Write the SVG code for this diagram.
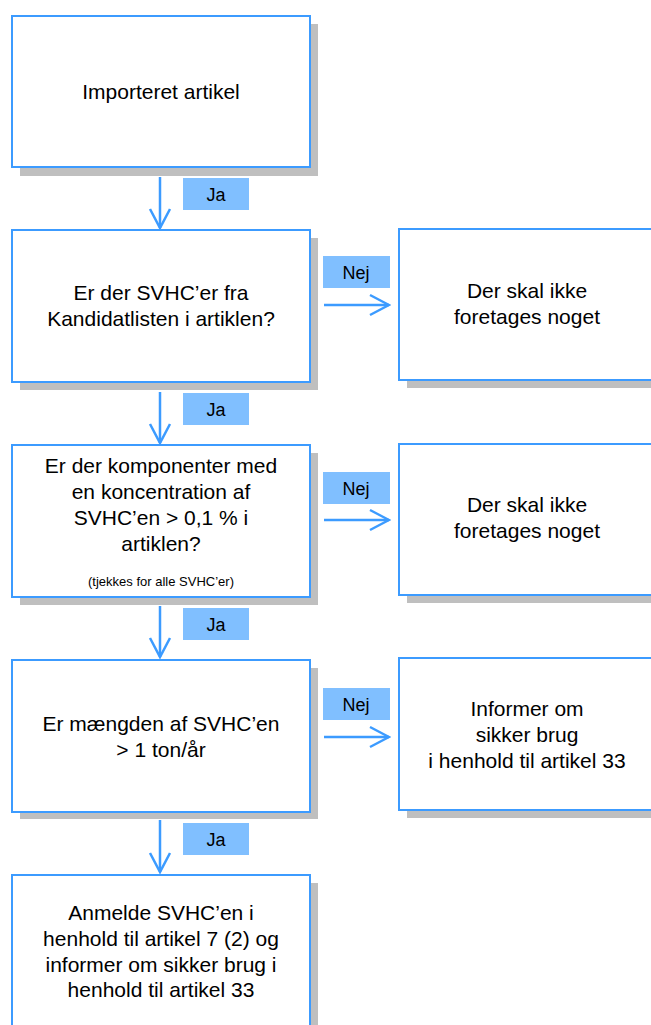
<svg xmlns="http://www.w3.org/2000/svg" width="651" height="1025" viewBox="0 0 651 1025">
<style>
.shadow{fill:#BFBFBF}
.box{fill:#FFFFFF;stroke:#3C9BFF;stroke-width:2}
.lbl{fill:#80BFFF}
.t{font-family:"Liberation Sans",Arial,sans-serif;font-size:21px;fill:#000;text-anchor:middle}
.s{font-family:"Liberation Sans",Arial,sans-serif;font-size:13px;fill:#000;text-anchor:middle}
.lt{font-family:"Liberation Sans",Arial,sans-serif;font-size:18px;fill:#000;text-anchor:middle}
.con{stroke:#3C9BFF;stroke-width:2.5;fill:none}
</style>
<defs>
<marker id="arr" markerUnits="userSpaceOnUse" markerWidth="24" markerHeight="24" viewBox="-22 -12 24 24" refX="0" refY="0" orient="auto">
<path d="M-19,-10 L0,0 L-19,10" fill="none" stroke="#3C9BFF" stroke-width="2.5"/>
</marker>
</defs>
<rect width="651" height="1025" fill="#FFFFFF"/>

<g id="n1">
<rect class="shadow" x="20" y="24" width="298" height="152"/>
<rect class="box" x="12" y="16" width="298" height="151"/>
<text class="t" x="161" y="99">Importeret artikel</text>
</g>

<g id="n2">
<rect class="shadow" x="20" y="238" width="298" height="152"/>
<rect class="box" x="12" y="230" width="298" height="152"/>
<text class="t" x="161" y="300">Er der SVHC’er fra</text>
<text class="t" x="161" y="326">Kandidatlisten i artiklen?</text>
</g>

<g id="n2r">
<rect class="shadow" x="407" y="237" width="260" height="151"/>
<rect class="box" x="399" y="229" width="258" height="151"/>
<text class="t" x="527" y="298">Der skal ikke</text>
<text class="t" x="527" y="324">foretages noget</text>
</g>

<g id="n3">
<rect class="shadow" x="20" y="453" width="298" height="152"/>
<rect class="box" x="12" y="445" width="298" height="152"/>
<text class="t" x="161" y="473">Er der komponenter med</text>
<text class="t" x="161" y="499">en koncentration af</text>
<text class="t" x="161" y="525">SVHC’en &gt; 0,1 % i</text>
<text class="t" x="161" y="551">artiklen?</text>
<text class="s" x="161" y="586">(tjekkes for alle SVHC’er)</text>
</g>

<g id="n3r">
<rect class="shadow" x="407" y="452" width="260" height="151"/>
<rect class="box" x="399" y="444" width="258" height="151"/>
<text class="t" x="527" y="512">Der skal ikke</text>
<text class="t" x="527" y="538">foretages noget</text>
</g>

<g id="n4">
<rect class="shadow" x="20" y="668" width="298" height="151"/>
<rect class="box" x="12" y="660" width="298" height="152"/>
<text class="t" x="161" y="731">Er mængden af SVHC’en</text>
<text class="t" x="161" y="757">&gt; 1 ton/år</text>
</g>

<g id="n4r">
<rect class="shadow" x="407" y="666" width="260" height="152"/>
<rect class="box" x="399" y="658" width="258" height="152"/>
<text class="t" x="527" y="716">Informer om</text>
<text class="t" x="527" y="742">sikker brug</text>
<text class="t" x="527" y="768">i henhold til artikel 33</text>
</g>

<g id="n5">
<rect class="shadow" x="20" y="883" width="298" height="152"/>
<rect class="box" x="12" y="875" width="298" height="152"/>
<text class="t" x="161" y="920">Anmelde SVHC’en i</text>
<text class="t" x="161" y="946">henhold til artikel 7 (2) og</text>
<text class="t" x="161" y="972">informer om sikker brug i</text>
<text class="t" x="161" y="997">henhold til artikel 33</text>
</g>

<g id="connectors">
<line class="con" x1="160" y1="177" x2="160" y2="228" marker-end="url(#arr)"/>
<line class="con" x1="160" y1="392" x2="160" y2="443" marker-end="url(#arr)"/>
<line class="con" x1="160" y1="606" x2="160" y2="657" marker-end="url(#arr)"/>
<line class="con" x1="160" y1="820" x2="160" y2="872" marker-end="url(#arr)"/>
<line class="con" x1="324" y1="305" x2="389" y2="305" marker-end="url(#arr)"/>
<line class="con" x1="324" y1="520" x2="389" y2="520" marker-end="url(#arr)"/>
<line class="con" x1="324" y1="737" x2="389" y2="737" marker-end="url(#arr)"/>
<g id="lbl-ja1"><rect class="lbl" x="183" y="178" width="66" height="32"/><text class="lt" x="216" y="201">Ja</text></g>
<g id="lbl-ja2"><rect class="lbl" x="183" y="393" width="66" height="32"/><text class="lt" x="216" y="416">Ja</text></g>
<g id="lbl-ja3"><rect class="lbl" x="183" y="608" width="66" height="32"/><text class="lt" x="216" y="631">Ja</text></g>
<g id="lbl-ja4"><rect class="lbl" x="183" y="823" width="66" height="32"/><text class="lt" x="216" y="846">Ja</text></g>
<g id="lbl-nej1"><rect class="lbl" x="323" y="256" width="67" height="32"/><text class="lt" x="356" y="279">Nej</text></g>
<g id="lbl-nej2"><rect class="lbl" x="323" y="472" width="67" height="32"/><text class="lt" x="356" y="495">Nej</text></g>
<g id="lbl-nej3"><rect class="lbl" x="323" y="688" width="67" height="32"/><text class="lt" x="356" y="711">Nej</text></g>
</g>
</svg>
